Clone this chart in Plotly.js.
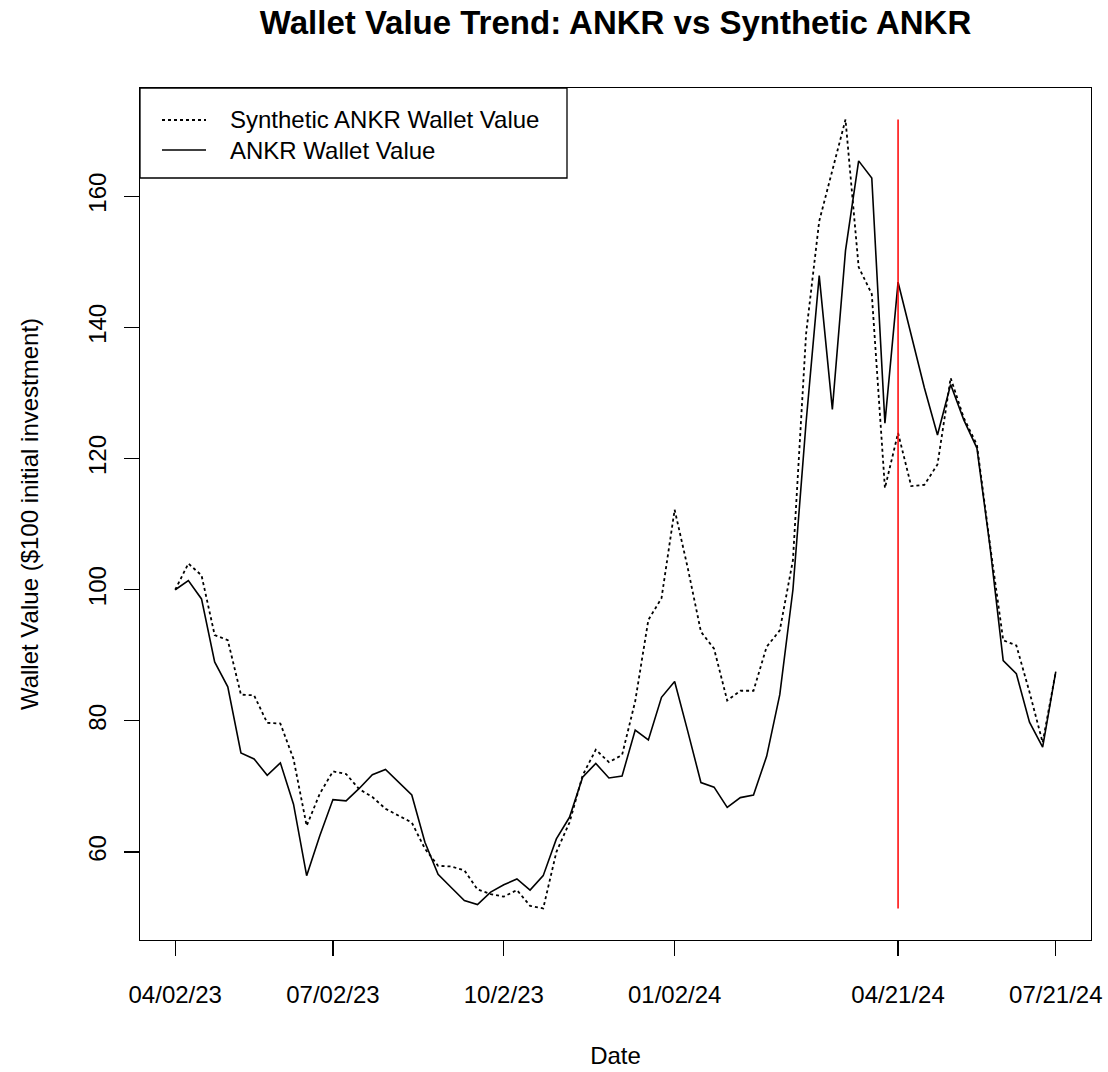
<!DOCTYPE html>
<html>
<head>
<meta charset="utf-8">
<script src="https://cdn.plot.ly/plotly-3.0.1.min.js"></script>
<style>html,body{margin:0;padding:0;background:#fff;}#chart{width:1108px;height:1072px;}</style>
</head>
<body>
<div id="chart"></div>
<script>
// Weekly observations, index 0..67
const ankrWallet = [
  100.0, 101.4, 98.6, 89.0, 85.2, 75.1, 74.2, 71.7, 73.6, 67.3,
  56.4, 62.5, 68.0, 67.8, 69.7, 71.8, 72.6, 70.6, 68.7, 61.5,
  56.6, 54.6, 52.6, 52.0, 53.9, 55.0, 55.9, 54.2, 56.4, 62.0,
  65.3, 71.4, 73.5, 71.3, 71.6, 78.6, 77.1, 83.6, 86.0, 78.4,
  70.6, 69.9, 66.8, 68.3, 68.7, 74.6, 84.0, 100.0, 125.5, 147.9,
  127.5, 151.7, 165.4, 162.8, 125.4, 146.9, 139.0, 130.8, 123.6, 131.3,
  125.9, 121.6, 106.5, 89.2, 87.2, 79.8, 76.0, 87.5
];
const syntheticWallet = [
  100.0, 104.0, 102.2, 93.1, 92.3, 84.0, 83.9, 79.7, 79.6, 74.2,
  64.0, 68.9, 72.3, 71.9, 69.6, 68.4, 66.6, 65.6, 64.5, 60.5,
  57.9, 57.8, 57.2, 54.3, 53.6, 53.2, 54.2, 51.8, 51.4, 60.0,
  64.5, 71.7, 75.6, 73.7, 74.8, 83.0, 95.4, 98.7, 112.2, 103.3,
  93.6, 91.0, 83.1, 84.6, 84.6, 91.3, 93.8, 104.5, 139.0, 156.2,
  164.0, 171.7, 149.2, 145.1, 115.5, 123.9, 115.8, 116.0, 119.1, 132.3,
  126.2, 122.1, 106.8, 92.3, 91.5, 84.4, 76.7, 87.5
];
const tickIndex = [0, 12, 25, 38, 55, 67];
const tickLabels = ["04/02/23", "07/02/23", "10/2/23", "01/02/24", "04/21/24", "07/21/24"];
const markerIndex = 55; // 04/21/24 vertical marker
const yTicks = [60, 80, 100, 120, 140, 160];
const seriesNames = ["Synthetic ANKR Wallet Value", "ANKR Wallet Value"];

const idx = ankrWallet.map((_, i) => i);
const allVals = ankrWallet.concat(syntheticWallet);
const yMin = Math.min(...allVals), yMax = Math.max(...allVals);
const yPad = (yMax - yMin) * 0.04;
const xPad = (idx.length - 1) * 0.04;

const FONT = "Liberation Sans, Arial, Helvetica, sans-serif";
const W = 1108, H = 1072, ML = 140, MR = 17, MT = 88, MB = 132;
const PW = W - ML - MR, PH = H - MT - MB;
const px = p => (p - ML) / PW;          // pixel -> paper x
const py = p => (H - MB - p) / PH;      // pixel -> paper y

const traces = [
  {x: idx, y: syntheticWallet, type: 'scatter', mode: 'lines', name: seriesNames[0],
   line: {color: '#000', width: 1.8, dash: 'dot'}},
  {x: idx, y: ankrWallet, type: 'scatter', mode: 'lines', name: seriesNames[1],
   line: {color: '#000', width: 1.6}},
  {x: [markerIndex, markerIndex], y: [yMin, yMax], type: 'scatter', mode: 'lines',
   line: {color: '#ff0000', width: 1.5}, hoverinfo: 'skip'}
];

// legend drawn as box + samples + text
const shapes = [
  {type: 'rect', xref: 'paper', yref: 'paper', x0: px(140), x1: px(567), y0: py(178), y1: py(88),
   fillcolor: '#fff', line: {color: '#000', width: 1.3}, layer: 'above'},
  {type: 'line', xref: 'paper', yref: 'paper', x0: px(162), x1: px(206), y0: py(120), y1: py(120),
   line: {color: '#000', width: 1.8, dash: 'dot'}, layer: 'above'},
  {type: 'line', xref: 'paper', yref: 'paper', x0: px(162), x1: px(206), y0: py(150), y1: py(150),
   line: {color: '#000', width: 1.6}, layer: 'above'}
];
const annotations = [
  {xref: 'paper', yref: 'paper', x: px(228), y: py(120), xanchor: 'left', yanchor: 'middle', showarrow: false,
   text: seriesNames[0], font: {family: FONT, size: 24, color: '#000'}},
  {xref: 'paper', yref: 'paper', x: px(228), y: py(150), xanchor: 'left', yanchor: 'middle', showarrow: false,
   text: seriesNames[1], font: {family: FONT, size: 24, color: '#000'}}
];

const layout = {
  width: W, height: H,
  margin: {l: ML, r: MR, t: MT, b: MB},
  paper_bgcolor: '#fff', plot_bgcolor: '#fff',
  font: {family: FONT, size: 24, color: '#000'},
  title: {text: '<b>Wallet Value Trend: ANKR vs Synthetic ANKR</b>', font: {family: FONT, size: 33, color: '#000'},
          x: 0.5, xref: 'paper', xanchor: 'center', y: 1 - 22/1072, yref: 'container', yanchor: 'middle'},
  showlegend: false,
  shapes: shapes,
  annotations: annotations,
  xaxis: {
    range: [-xPad, idx.length - 1 + xPad], tickmode: 'array', tickvals: tickIndex, ticktext: tickLabels,
    showgrid: false, zeroline: false, showline: true, mirror: true, linecolor: '#000', linewidth: 1.3,
    ticks: 'outside', ticklen: 15, tickwidth: 1.2, tickcolor: '#000', ticklabelstandoff: 18,
    tickfont: {family: FONT, size: 24, color: '#000'},
    title: {text: 'Date', font: {family: FONT, size: 24, color: '#000'}, standoff: 40}
  },
  yaxis: {
    range: [yMin - yPad, yMax + yPad], tickmode: 'array', tickvals: yTicks, ticktext: yTicks.map(String),
    showgrid: false, zeroline: false, showline: true, mirror: true, linecolor: '#000', linewidth: 1.3,
    ticks: 'outside', ticklen: 15, tickwidth: 1.2, tickcolor: '#000', tickangle: -90, ticklabelstandoff: 8,
    tickfont: {family: FONT, size: 24, color: '#000'},
    title: {text: 'Wallet Value ($100 initial investment)', font: {family: FONT, size: 24, color: '#000'}, standoff: 38}
  }
};

Plotly.newPlot('chart', traces, layout, {staticPlot: true, displayModeBar: false});
</script>
</body>
</html>
